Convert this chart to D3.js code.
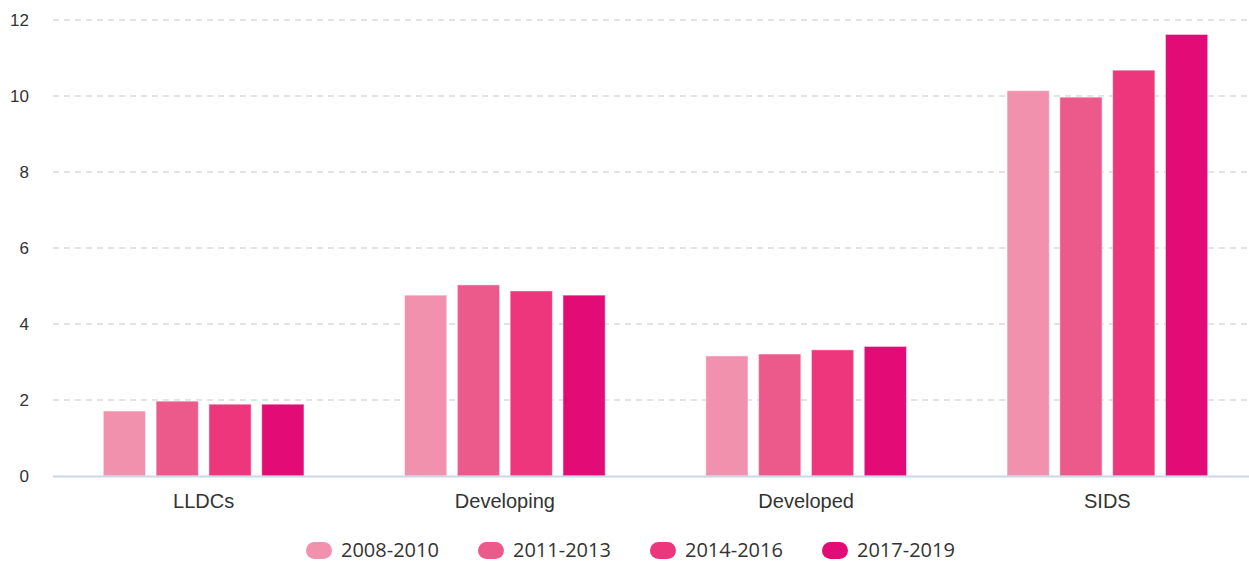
<!DOCTYPE html>
<html>
<head>
<meta charset="utf-8">
<script src="https://cdn.jsdelivr.net/npm/d3@7"></script>
<style>
  html, body { margin: 0; padding: 0; background: #fff; }
  svg { display: block; }
</style>
</head>
<body>
<div id="chart"></div>
<script>
// data
const categories = ['LLDCs', 'Developing', 'Developed', 'SIDS'];
const periods = ['2008-2010', '2011-2013', '2014-2016', '2017-2019'];
const values2008 = [1.71, 4.76, 3.16, 10.14];
const values2011 = [1.97, 5.03, 3.21, 9.97];
const values2014 = [1.89, 4.87, 3.32, 10.68];
const values2017 = [1.89, 4.76, 3.41, 11.62];
const yTicks = [0, 2, 4, 6, 8, 10, 12];
const colors = ['#f191ad', '#ec5a8b', '#ed367c', '#e30b76'];

const seriesValues = [values2008, values2011, values2014, values2017];

const width = 1249;
const height = 562;

const svg = d3.select('#chart')
    .append('svg')
    .attr('width', width)
    .attr('height', height);

const xScale = d3.scaleBand()
    .domain(categories)
    .range([53, 1258])
    .padding(0);

const innerScale = d3.scaleBand()
    .domain(periods)
    .range([45, xScale.bandwidth() - 45])
    .paddingInner(0.2)
    .paddingOuter(0.1);

const yScale = d3.scaleLinear()
    .domain([0, 12])
    .range([476, 20]);

// gridlines
svg.append('g')
    .selectAll('line')
    .data(yTicks.filter(d => d > 0))
    .join('line')
    .attr('x1', 53)
    .attr('x2', width)
    .attr('y1', d => yScale(d))
    .attr('y2', d => yScale(d))
    .attr('stroke', '#e3e3e3')
    .attr('stroke-width', 2)
    .attr('stroke-dasharray', '6,5');

// y labels
svg.append('g')
    .selectAll('text')
    .data(yTicks)
    .join('text')
    .attr('x', 29)
    .attr('y', d => yScale(d) + 6)
    .attr('text-anchor', 'end')
    .style('font-family', '"Liberation Sans", Arial, sans-serif')
    .style('font-size', '17px')
    .attr('fill', '#333')
    .text(d => d);

// bars
const groups = svg.append('g')
    .selectAll('g')
    .data(categories)
    .join('g')
    .attr('transform', d => `translate(${xScale(d)},0)`);

groups.selectAll('rect')
    .data((c, ci) => periods.map((p, pi) => ({ period: p, value: seriesValues[pi][ci], color: colors[pi] })))
    .join('rect')
    .attr('x', d => innerScale(d.period))
    .attr('width', innerScale.bandwidth())
    .attr('y', d => yScale(d.value))
    .attr('height', d => yScale(0) - yScale(d.value))
    .attr('fill', d => d.color)
    .attr('stroke', '#fff')
    .attr('stroke-opacity', 0.5)
    .attr('stroke-width', 1);

// x axis line
svg.append('line')
    .attr('x1', 53)
    .attr('x2', width)
    .attr('y1', yScale(0) + 0.5)
    .attr('y2', yScale(0) + 0.5)
    .attr('stroke', '#ccd6eb')
    .attr('stroke-width', 2);

// x labels
svg.append('g')
    .selectAll('text')
    .data(categories)
    .join('text')
    .attr('x', d => xScale(d) + xScale.bandwidth() / 2)
    .attr('y', 508)
    .attr('text-anchor', 'middle')
    .style('font-family', '"Liberation Sans", Arial, sans-serif')
    .style('font-size', '20px')
    .attr('fill', '#333')
    .text(d => d);

// legend
const legend = svg.append('g')
    .selectAll('g')
    .data(periods)
    .join('g')
    .attr('transform', (d, i) => `translate(${306 + i * 172}, 542)`);

legend.append('rect')
    .attr('width', 26)
    .attr('height', 17)
    .attr('rx', 8.5)
    .attr('fill', (d, i) => colors[i]);

legend.append('text')
    .attr('x', 35)
    .attr('y', 15)
    .style('font-family', '"Open Sans", sans-serif')
    .style('font-size', '20px')
    .attr('fill', '#333')
    .text(d => d);
</script>
</body>
</html>
